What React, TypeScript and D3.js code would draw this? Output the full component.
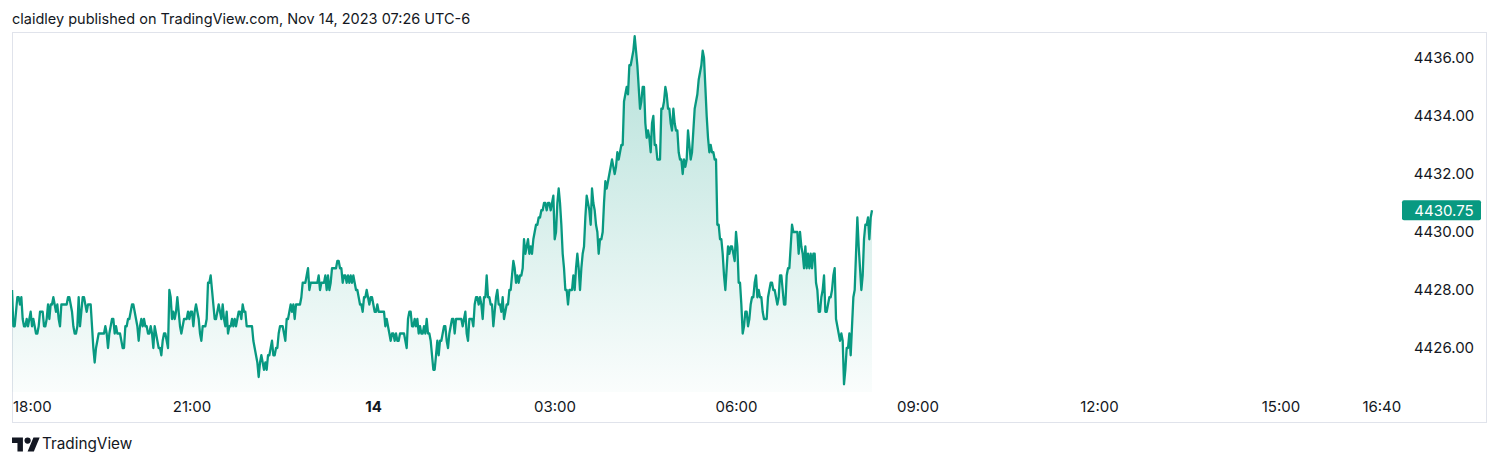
import React from "react";
import * as d3 from "d3";

// ES futures price, evenly sampled (≈80 s) from 18:01:30 to 08:14:24
const prices1800 = [4428, 4426.75, 4426.75, 4427.25, 4427.75, 4427.75, 4427.5, 4427.75, 4427, 4426.75, 4426.75, 4427, 4426.75, 4427, 4427.25, 4426.75, 4427, 4426.75, 4426.5, 4426.5, 4426.75, 4427.25, 4427.25, 4427.25, 4426.75, 4426.75, 4427, 4427.5, 4427, 4427.5, 4427.5, 4427.75, 4427.5, 4427.25, 4427.5, 4427, 4426.75, 4427.5, 4427.5, 4427.5, 4427.5, 4427.5, 4427.75, 4427.75, 4427.5, 4427.25, 4426.75, 4426.5, 4426.5, 4426.75, 4427.75, 4426.75, 4427.25, 4427.75, 4427.75, 4427.5, 4427.25, 4427.5, 4427.5, 4427.5, 4426.75, 4426, 4425.5, 4426, 4426.25, 4426.5, 4426.5, 4426.5, 4426.5, 4426.5, 4426.75, 4426.5];
const prices1935 = [4426, 4426.5, 4426.75, 4427, 4427, 4426.5, 4426.75, 4426.5, 4426.5, 4426.5, 4426.25, 4426, 4426, 4426.75, 4426.75, 4427, 4427, 4427.25, 4427.5, 4427.5, 4427.25, 4427, 4426.75, 4426.25, 4426.75, 4427, 4426.75, 4427, 4426.75, 4426.75, 4426.5, 4426.5, 4426.75, 4426.5, 4426, 4426.75, 4426.5, 4426.25, 4426, 4426, 4425.75, 4426.25, 4426.5, 4426.5, 4426.25, 4426, 4428, 4427.75, 4427, 4427.25, 4427, 4427.25, 4427.75, 4427.25, 4426.75, 4426.5, 4426.75, 4427, 4427, 4427, 4427.25, 4427, 4427.25, 4427.25, 4426.75, 4427.25, 4427.5, 4427.25, 4427, 4426.5, 4426.25, 4426.75];
const prices2110 = [4426.75, 4426.75, 4427, 4428.25, 4428.25, 4428.5, 4428, 4427.5, 4427, 4427, 4427.25, 4427.5, 4427.25, 4427, 4427.5, 4427, 4426.75, 4427.25, 4426.5, 4426.75, 4426.75, 4427, 4426.75, 4427, 4426.75, 4427, 4427.25, 4427.25, 4427, 4427.5, 4427.25, 4427.25, 4426.75, 4426.75, 4426.75, 4426.75, 4426.75, 4426.25, 4426, 4425.75, 4425.5, 4425, 4425.5, 4425.75, 4425.5, 4425.25, 4425.5, 4425.25, 4425.75, 4425.75, 4426, 4426.25, 4425.75, 4425.75, 4426, 4426, 4426.5, 4426.75, 4426.75, 4426.75, 4426.5, 4426.25, 4427, 4427, 4427.25, 4427.5, 4427.25, 4427.5, 4427, 4427.5, 4427.5, 4427.5];
const prices2245 = [4427.5, 4427.75, 4428.25, 4428.25, 4428.25, 4428.5, 4428.75, 4428, 4428.25, 4428.25, 4428.25, 4428.25, 4428.25, 4428.25, 4428.5, 4428, 4428.25, 4428.25, 4428.25, 4428.5, 4428, 4428.5, 4428, 4428.25, 4428.75, 4428.75, 4428.75, 4428.75, 4429, 4429, 4428.75, 4428.75, 4428.25, 4428.5, 4428.5, 4428.25, 4428.5, 4428.25, 4428.5, 4428.25, 4428.5, 4428.25, 4428, 4428, 4427.75, 4427.5, 4427.5, 4427.25, 4427.75, 4427.75, 4428, 4427.75, 4427.5, 4427.75, 4427.75, 4427.5, 4427.25, 4427.25, 4427.5, 4427.25, 4427.25, 4427.25, 4427.25, 4427.25, 4426.75, 4427, 4426.75, 4426.5, 4426.25, 4426.5, 4426.5, 4426.25];
const prices0020 = [4426.5, 4426.25, 4426.25, 4426.5, 4426.5, 4426.5, 4426.5, 4426.25, 4426, 4427, 4427.25, 4427.25, 4426.75, 4426.75, 4427, 4426.75, 4427, 4426.5, 4426.75, 4426.5, 4426.5, 4426.75, 4426.5, 4427, 4426.5, 4426.5, 4426.25, 4425.75, 4425.25, 4425.25, 4425.75, 4426.25, 4425.75, 4426.25, 4426.25, 4426.5, 4426.75, 4426.75, 4426.25, 4426, 4426.5, 4426.75, 4427, 4427, 4426.5, 4427, 4427, 4427, 4427, 4427, 4426.75, 4427, 4427.25, 4426.5, 4426.25, 4427, 4427, 4427, 4426.75, 4427.5, 4427.75, 4427.75, 4427.5, 4427.75, 4427.5, 4427, 4427.75, 4427.75, 4428.5, 4427.75, 4427.75, 4427.5];
const prices0155 = [4427.5, 4426.75, 4427.25, 4427.75, 4428, 4427.5, 4427.5, 4427.25, 4427.75, 4427, 4427.25, 4427.5, 4427.5, 4428, 4428, 4428.5, 4429, 4428.75, 4428.25, 4428.5, 4428.25, 4428.5, 4428.5, 4428.75, 4429.75, 4429.25, 4429.5, 4429.75, 4429.25, 4429.5, 4429.25, 4429.75, 4430, 4430.25, 4430.25, 4430.5, 4430.5, 4430.75, 4430.75, 4431, 4431, 4430.75, 4431, 4431, 4430.75, 4431, 4431.25, 4429.75, 4430, 4431, 4431.5, 4431, 4430.25, 4429.25, 4428.75, 4428, 4428, 4427.5, 4428, 4428, 4428, 4428.5, 4428, 4428.75, 4429.25, 4428.75, 4428, 4428.75, 4429.25, 4429.5, 4430.5, 4431.25];
const prices0330 = [4431, 4430.75, 4430.25, 4431.5, 4431, 4430.75, 4430.25, 4430, 4429.25, 4429.75, 4429.75, 4430, 4431, 4431.75, 4431.5, 4431.75, 4432, 4432.25, 4432.5, 4432.25, 4432, 4432.25, 4432.75, 4432.5, 4432.75, 4433, 4433, 4434.5, 4434.75, 4435, 4434.75, 4435.75, 4435.75, 4436, 4436.25, 4436.75, 4436.25, 4435.75, 4435, 4434.25, 4434.5, 4435, 4435, 4433.75, 4433.25, 4433.5, 4433.25, 4432.75, 4433.75, 4434, 4433, 4433, 4432.5, 4432.5, 4432.5, 4434.25, 4434.25, 4434.5, 4435, 4434.75, 4434.25, 4434.25, 4433.75, 4433.5, 4434.25, 4433.75, 4433.5, 4433.5, 4432.75, 4432.5, 4432.5, 4432];
const prices0505 = [4432.5, 4432.25, 4432.5, 4433.5, 4433, 4432.5, 4432.75, 4433.5, 4434.25, 4434.5, 4434.75, 4435.25, 4435.5, 4435.75, 4436.25, 4436, 4435, 4434, 4433.25, 4432.75, 4433, 4432.75, 4432.75, 4432.5, 4432.5, 4430.25, 4430.25, 4429.75, 4429.75, 4429.25, 4428.5, 4428, 4428.75, 4429.5, 4429.25, 4429.5, 4429.5, 4429.25, 4429, 4430, 4429.5, 4428.25, 4428.25, 4427.5, 4426.5, 4426.75, 4427.25, 4427.25, 4426.75, 4427, 4427.5, 4427.75, 4427.75, 4428.25, 4428.5, 4427.75, 4428, 4427.75, 4427.75, 4427.25, 4427, 4427, 4427, 4427.75, 4428, 4428.25, 4428.25, 4428, 4428, 4427.75, 4427.5, 4427.75];
const prices0640 = [4428.5, 4428.5, 4428, 4427.5, 4427.5, 4428.5, 4428.75, 4428.75, 4429.5, 4430.25, 4430, 4430, 4430, 4430, 4429.25, 4430, 4429.5, 4429.25, 4428.75, 4429.5, 4428.75, 4429.25, 4428.75, 4429.25, 4428.75, 4429.25, 4429.25, 4428.25, 4428, 4427.25, 4427.25, 4427.75, 4428, 4428.5, 4427.25, 4427.25, 4427.5, 4427.75, 4427.75, 4428, 4428.5, 4428.75, 4427, 4426.75, 4426.5, 4426.25, 4426.5, 4426.25, 4424.75, 4425.25, 4426, 4426, 4426.5, 4425.75, 4426.75, 4427.75, 4428, 4429.25, 4430.5, 4429.5, 4428.75, 4428, 4428.5, 4429.75, 4430.25, 4430.25, 4430.5, 4429.75, 4430.5, 4430.75];

const priceTicks = [4426, 4428, 4430, 4432, 4434, 4436];
const timeTickLabels = ["18:00", "21:00", "14", "03:00", "06:00", "09:00", "12:00", "15:00", "16:40"];
const timeTickTimes = [
  new Date(2023, 10, 13, 18, 0),
  new Date(2023, 10, 13, 21, 0),
  new Date(2023, 10, 14, 0, 0),
  new Date(2023, 10, 14, 3, 0),
  new Date(2023, 10, 14, 6, 0),
  new Date(2023, 10, 14, 9, 0),
  new Date(2023, 10, 14, 12, 0),
  new Date(2023, 10, 14, 15, 0),
  new Date(2023, 10, 14, 16, 40),
];
const firstSample = new Date(2023, 10, 13, 18, 1, 30);
const lastSample = new Date(2023, 10, 14, 8, 14, 24);
const headerText = "claidley published on TradingView.com, Nov 14, 2023 07:26 UTC-6";

const W = 1500;
const H = 466;
const GREEN = "#089981";
const TEXT = "#131722";
const FONT = "Inter, 'Noto Sans', 'Liberation Sans', sans-serif";

export default function App() {
  const prices = [
    ...prices1800, ...prices1935, ...prices2110, ...prices2245, ...prices0020,
    ...prices0155, ...prices0330, ...prices0505, ...prices0640,
  ];
  const n = prices.length;
  const stepMs = (lastSample.getTime() - firstSample.getTime()) / (n - 1);
  const data = prices.map((p, i) => ({ t: new Date(firstSample.getTime() + i * stepMs), p }));

  const x = d3.scaleTime()
    .domain([new Date(2023, 10, 13, 18, 0), new Date(2023, 10, 14, 15, 0)])
    .range([10.5, 1281]);
  const y = d3.scaleLinear().domain([4426, 4436]).range([348, 58]);

  const paneLeft = 12, paneRight = 1395, paneTop = 33, paneBottom = 392;

  const line = d3.line<{ t: Date; p: number }>().x((d) => x(d.t)).y((d) => y(d.p));
  const area = d3.area<{ t: Date; p: number }>().x((d) => x(d.t)).y0(paneBottom).y1((d) => y(d.p));

  const maxP = d3.max(prices) as number;
  const last = prices[n - 1];

  return (
    <svg width={W} height={H} style={{ position: "absolute", left: 0, top: 0, background: "#fff" }}>
      <defs>
        <linearGradient id="areaGrad" gradientUnits="userSpaceOnUse" x1={0} x2={0} y1={y(maxP)} y2={paneBottom}>
          <stop offset="0%" stopColor={GREEN} stopOpacity={0.3} />
          <stop offset="100%" stopColor={GREEN} stopOpacity={0.02} />
        </linearGradient>
        <clipPath id="pane">
          <rect x={paneLeft} y={paneTop} width={paneRight - paneLeft} height={paneBottom - paneTop} />
        </clipPath>
      </defs>
      <rect x={0} y={0} width={W} height={H} fill="#fff" />
      <text x={12} y={24} fontFamily={FONT} fontSize={14.5} fill={TEXT}>{headerText}</text>
      <rect x={12.5} y={32.5} width={1474} height={390} fill="none" stroke="#e0e3eb" strokeWidth={1} />

      <g clipPath="url(#pane)">
        <path d={area(data) || ""} fill="url(#areaGrad)" />
        <path d={line(data) || ""} fill="none" stroke={GREEN} strokeWidth={2.3} strokeLinejoin="round" />
      </g>

      {priceTicks.map((v) => (
        <text key={v} x={1444} y={y(v)} dy="0.35em" textAnchor="middle" fontFamily={FONT} fontSize={15} fill={TEXT}>
          {v.toFixed(2)}
        </text>
      ))}
      <rect x={1402} y={y(last) - 10} width={79} height={20} rx={2} fill={GREEN} />
      <text x={1444} y={y(last)} dy="0.35em" textAnchor="middle" fontFamily={FONT} fontSize={15} fill="#fff">
        {last.toFixed(2)}
      </text>

      {timeTickTimes.map((t, i) => {
        const cx = x(t);
        const first = cx < 40;
        return (
          <text key={i} x={first ? 13 : cx} y={407} dy="0.35em" textAnchor={first ? "start" : "middle"}
            fontFamily={FONT} fontSize={15} fontWeight={timeTickLabels[i] === "14" ? 700 : 400} fill={TEXT}>
            {timeTickLabels[i]}
          </text>
        );
      })}

      <g transform="translate(12,434.3) scale(0.78)" fill={TEXT}>
        <path d="M14 22H7V11H0V4h14v18zM28 22h-8l7.5-18h8L28 22z" />
        <circle cx={20} cy={8} r={4} />
      </g>
      <text x={42} y={449} fontFamily={FONT} fontSize={15.3} fill={TEXT}>TradingView</text>
    </svg>
  );
}
